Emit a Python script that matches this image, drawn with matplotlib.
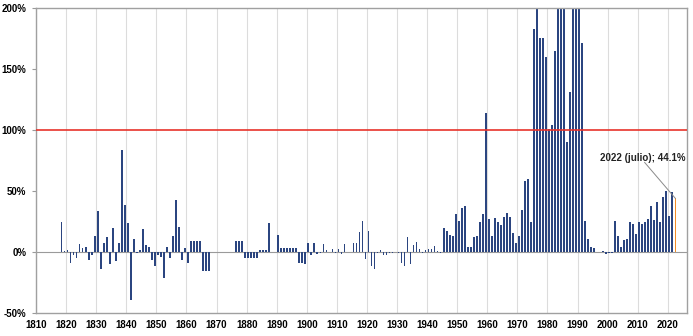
import matplotlib
matplotlib.use("Agg")
import matplotlib.pyplot as plt
import numpy as np

# Annual inflation (%) by period
infl_1810_1869 = [
    0, 0, 0, 0.4, 0, 0.4, 0, 0, 25, 1,
    2, -8.7, -2.5, -4.6, 6.5, 3, 4.6, -6.5, -2.5, 13,
    34, -14, 7.6, 12.8, -9.8, 19.7, -7.6, 7.4, 84, 38.5,
    23.5, -39.3, 11, -1, 1.6, 19, 6, 4.4, -6.5, -11,
    -2, -4, -21.6, 4.4, -5, 13, 42.6, 21, -6.5, 3.5,
    -9.3, 9, 9, 9, 9, -15.3, -15.3, -15.3, 0, 0,
]
infl_1870_1939 = [
    0, 0, 0, 0, 0, 0, 9, 9, 9, -4.5,
    -4.5, -4.5, -4.5, -4.5, 1.4, 1.4, 1.4, 24, 0.5, 0.5,
    14, 3, 3, 3, 3, 3, 3, -8.7, -8.7, -9.8,
    7.6, -2.5, 7.6, -1.6, -1, 6.5, 1.6, 0.5, 2.2, -1,
    2.7, -1.4, 6.3, 0.5, 0.3, 7.6, 7.6, 16.7, 25.7, -6,
    17, -11.5, -14, -1, 1.4, -2, -2.5, -1, -1, 0,
    -1, -9.3, -11.5, 12.6, -9.8, 5.5, 8, 2.2, -0.5, 1.4,
]
infl_1940_1999 = [
    2.2, 2.5, 5.2, 0.8, -0.5, 19.4, 17.5, 14, 13, 31,
    25.4, 36, 38, 3.8, 3.8, 12.3, 13.4, 25, 31.4, 113.7,
    27, 13.4, 28, 24.3, 22, 28.7, 31.7, 29, 16, 7.6,
    13.6, 34.4, 58.5, 60, 24.3, 182.5, 444, 175.7, 175.7, 159.6,
    100.5, 104.4, 164.8, 343.8, 626.7, 672.2, 90.2, 131, 343, 3079,
    2314, 171.6, 25.4, 10.4, 4.1, 3, 0.2, 0.5, 0.9, -1.2,
]
infl_2000_2022 = [
    -0.9, -1.1, 25.4, 13, 4.4, 9.6, 10.9, 25, 23, 15,
    25, 23, 25, 27.5, 38, 26.5, 41, 25, 45, 50,
    30, 49, 44.1,
]

first_year = 1810
last_year = 2022
x_ticks = list(range(1810, 2021, 10))
y_ticks = [-50, 0, 50, 100, 150, 200]
y_tick_labels = ["-50%", "0%", "50%", "100%", "150%", "200%"]
note_text = "2022 (julio); 44.1%"

inflation = np.array(infl_1810_1869 + infl_1870_1939 + infl_1940_1999 + infl_2000_2022)
years = np.arange(first_year, last_year + 1)

plt.rcParams["font.family"] = ["Liberation Sans", "DejaVu Sans"]

fig = plt.figure(figsize=(6.93, 3.36), dpi=100)
ax = fig.add_axes([0.052, 0.068, 0.939, 0.908])

ax.set_xlim(1810, 2026.3)
ax.set_ylim(-50, 200)

# decade gridlines
for xt in x_ticks:
    ax.axvline(xt, color="#dcdcdc", lw=0.8, zorder=0)

colors = ["#2b4580"] * len(years)
colors[-1] = "#f28c28"
ax.bar(years + 0.5, inflation, width=0.55, color=colors, zorder=2, linewidth=0)

ax.axhline(0, color="#9a9a9a", lw=0.8, zorder=1)
ax.axhline(100, color="#e8332b", lw=1.2, zorder=3)

# label for the latest value with a leader line to its bar
note_x, note_y = 2011.8, 77.5
ax.text(note_x, note_y, note_text, ha="center", va="center",
        fontsize=7, fontweight="bold", color="#222222", zorder=4)
ax.plot([note_x + 0.5, last_year + 0.5], [note_y - 4, inflation[-1]],
        color="#8a8a8a", lw=0.7, zorder=4)

ax.set_xticks(x_ticks)
ax.set_xticklabels([str(v) for v in x_ticks], fontsize=7, fontweight="bold")
ax.set_yticks(y_ticks)
ax.set_yticklabels(y_tick_labels, fontsize=7, fontweight="bold")
ax.tick_params(axis="x", length=0, pad=5)
ax.tick_params(axis="y", length=3, pad=4, color="#9a9a9a")

for s in ax.spines.values():
    s.set_color("#a0a0a0")
    s.set_linewidth(1.0)

fig.savefig("out.png", dpi=100)
